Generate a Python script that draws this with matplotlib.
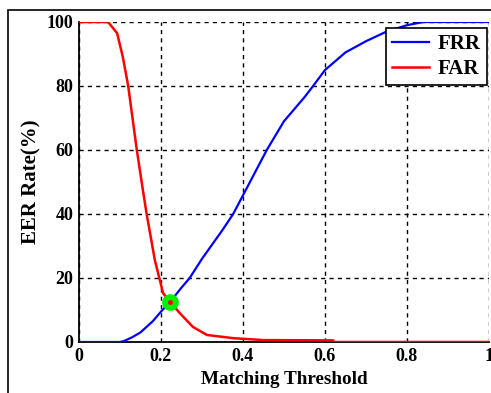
import matplotlib.pyplot as plt
from matplotlib.patches import Rectangle

# FRR curve (blue)
frr_x = [0, 0.10, 0.11, 0.13, 0.15, 0.18, 0.20, 0.222, 0.25, 0.27, 0.30, 0.35, 0.376, 0.417,
         0.458, 0.50, 0.55, 0.571, 0.60, 0.65, 0.70, 0.75, 0.80, 0.84, 1.0]
frr_y = [0, 0, 0.3, 1.5, 3, 6.5, 9.5, 12.5, 17, 20, 26, 35, 40, 50,
         60, 69, 76.5, 80, 85, 90.5, 94, 97, 99, 100, 100]

# FAR curve (red)
far_x = [0, 0.071, 0.093, 0.107, 0.12, 0.141, 0.157, 0.165, 0.185, 0.205, 0.222, 0.246,
         0.278, 0.312, 0.376, 0.40, 0.45, 0.62, 0.621, 1.0]
far_y = [100, 100, 96.5, 89, 80, 60, 46.5, 40, 25.6, 15.3, 12.5, 9,
         4.7, 2.2, 1.2, 1.0, 0.6, 0.5, 0, 0]

eer_x = [0.222]
eer_y = [12.5]

plt.rcParams['font.family'] = ['Liberation Serif', 'DejaVu Serif']
plt.rcParams['font.weight'] = 'bold'

fig = plt.figure(figsize=(4.91, 3.93), dpi=100)
ax = fig.add_axes([79 / 491, 1 - 342 / 393, 410 / 491, 320 / 393])

ax.plot(frr_x, frr_y, color='#0000ff', lw=1.6, label='FRR', zorder=3)
ax.plot(far_x, far_y, color='#ff0000', lw=1.8, label='FAR', zorder=3)
ax.plot(eer_x, eer_y, 'o', color='#00ee00', ms=11, zorder=4)
ax.plot(eer_x, eer_y, 'o', color='#ff0000', ms=2.5, zorder=5)

ax.set_xlim(0, 1)
ax.set_ylim(0, 100)
ax.set_xticks([0, 0.2, 0.4, 0.6, 0.8, 1])
ax.set_xticklabels(['0', '0.2', '0.4', '0.6', '0.8', '1'])
ax.set_yticks([0, 20, 40, 60, 80, 100])
ax.tick_params(length=0, labelsize=13, pad=4)
ax.grid(True, color='black', linestyle=(0, (3, 3)), lw=1)
ax.spines['top'].set_visible(False)
ax.spines['right'].set_visible(False)
for s in ['left', 'bottom']:
    ax.spines[s].set_linewidth(1.3)

ax.set_xlabel('Matching Threshold', fontsize=13.8, fontweight='bold', labelpad=5)
ax.set_ylabel('EER Rate(%)', fontsize=15, fontweight='bold', labelpad=4)

leg = ax.legend(loc='upper right', bbox_to_anchor=(0.995, 0.981), borderaxespad=0,
                fontsize=15, fancybox=False, edgecolor='black', framealpha=1,
                handlelength=1.8, borderpad=0.3, labelspacing=0.22, handletextpad=0.4)
leg.get_frame().set_linewidth(1.2)

# outer frame around the figure
fig.patches.append(Rectangle((8 / 491, -0.1), 1.2, 1 - 10 / 393 + 0.1,
                             transform=fig.transFigure, fill=False,
                             edgecolor='black', lw=1.2))

fig.savefig('out.png', dpi=100)
